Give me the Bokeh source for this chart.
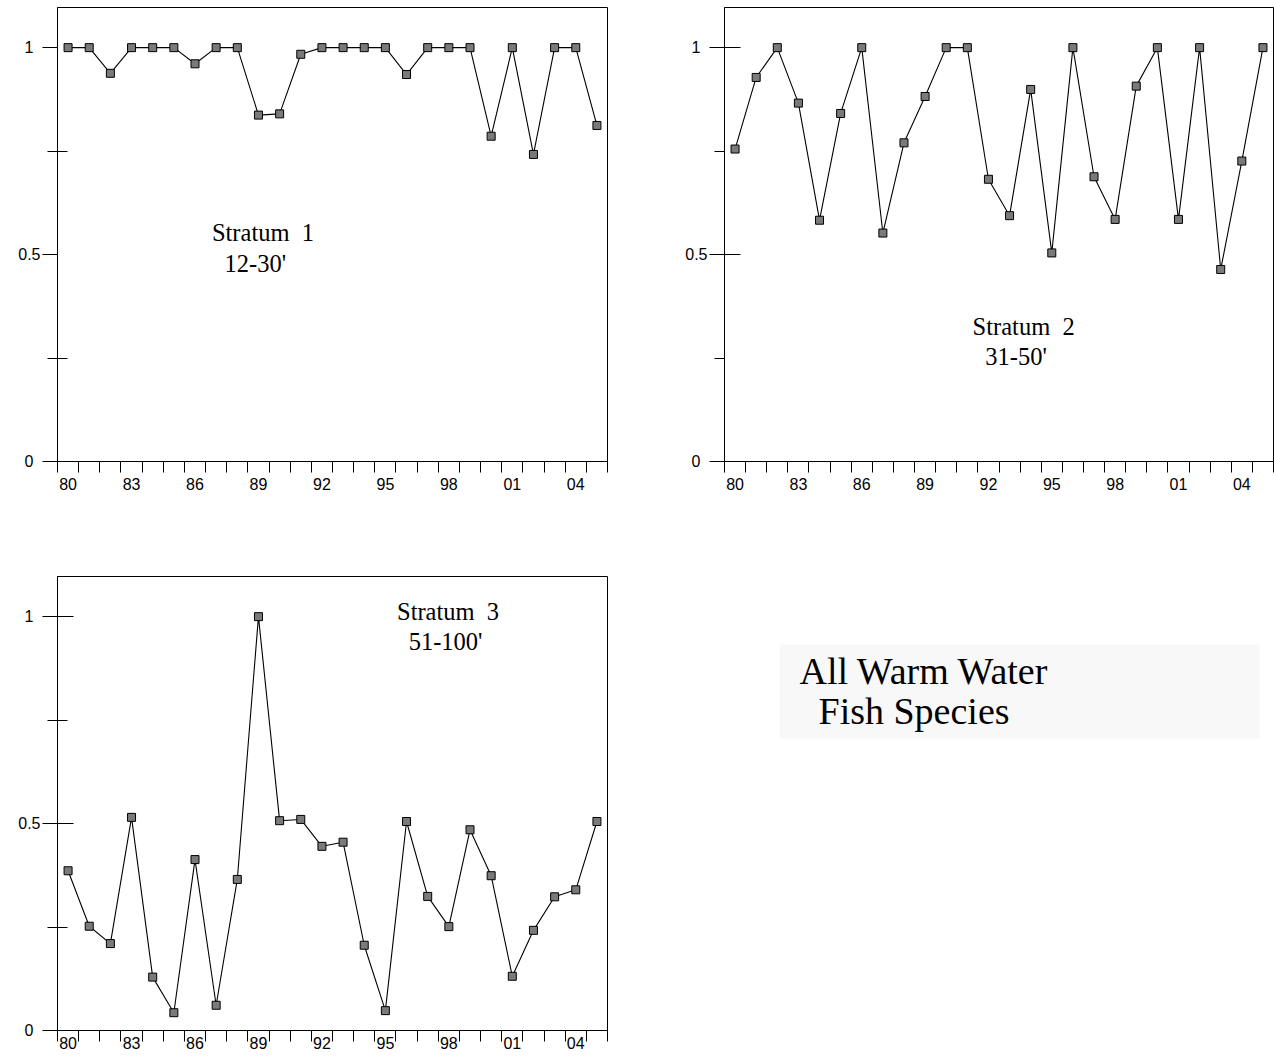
from bokeh.plotting import figure
from bokeh.models import Range1d, FixedTicker, Label, BoxAnnotation
from bokeh.layouts import column, row
from bokeh.embed import file_html
from bokeh.resources import INLINE

# ---- data ----
years = list(range(1980, 2006))
stratum1 = [1, 1, 0.938, 1, 1, 1, 0.961, 1, 1, 0.837, 0.840, 0.984, 1,
            1, 1, 1, 0.935, 1, 1, 1, 0.786, 1, 0.742, 1, 1, 0.812]
stratum2 = [0.755, 0.928, 1, 0.866, 0.583, 0.841, 1, 0.552, 0.770, 0.882,
            1, 1, 0.682, 0.594, 0.899, 0.504, 1, 0.688, 0.585, 0.907, 1,
            0.585, 1, 0.464, 0.726, 1]
stratum3 = [0.386, 0.252, 0.210, 0.515, 0.129, 0.043, 0.413, 0.061, 0.365,
            1.0, 0.507, 0.510, 0.445, 0.455, 0.206, 0.048, 0.505, 0.324,
            0.251, 0.485, 0.374, 0.131, 0.242, 0.323, 0.340, 0.505]
x_tick_years = [1980, 1983, 1986, 1989, 1992, 1995, 1998, 2001, 2004]
x_tick_labels = ["80", "83", "86", "89", "92", "95", "98", "01", "04"]
y_ticks = [0, 0.5, 1]
y_tick_labels = ["0", "0.5", "1"]
y_minor_ticks = [0.25, 0.75]
titles = [("Stratum\u00a0 1", "12-30'"), ("Stratum\u00a0 2", "31-50'"), ("Stratum\u00a0 3", "51-100'")]
box_lines = ["All Warm Water", "Fish Species"]

SANS = "Liberation Sans"
SERIF = "Liberation Serif"
PAD = "\u00a0\u2006"


def make_panel(vals, width, height, mbl, mbr, mbt, mbb, major_in, minor_in, x_standoff):
    p = figure(width=width, height=height,
               x_range=Range1d(years[0] - 0.5, years[-1] + 0.5),
               y_range=Range1d(0, 1.097),
               output_backend="svg", toolbar_location=None,
               min_border_left=mbl, min_border_right=mbr,
               min_border_top=mbt, min_border_bottom=mbb)
    p.xgrid.visible = False
    p.ygrid.visible = False
    p.outline_line_color = "black"
    p.outline_line_width = 1
    p.background_fill_color = "white"
    p.border_fill_color = "white"

    xa = p.xaxis[0]
    xa.ticker = FixedTicker(ticks=x_tick_years,
                            minor_ticks=[y - 0.5 for y in years] + [years[-1] + 0.5])
    xa.major_label_overrides = {y: l for y, l in zip(x_tick_years, x_tick_labels)}
    xa.major_tick_out = 0
    xa.major_tick_in = 0
    xa.minor_tick_out = 11
    xa.minor_tick_in = 0
    xa.major_label_standoff = x_standoff
    xa.major_label_text_font = SANS
    xa.major_label_text_font_size = "16px"
    xa.major_label_text_color = "black"
    xa.axis_line_color = "black"
    xa.minor_tick_line_color = "black"

    ya = p.yaxis[0]
    ya.ticker = FixedTicker(ticks=y_ticks, minor_ticks=y_minor_ticks)
    ya.major_label_overrides = {t: (l if len(l) > 1 else l + PAD)
                                for t, l in zip(y_ticks, y_tick_labels)}
    ya.major_tick_out = 15
    ya.major_tick_in = major_in
    ya.minor_tick_out = 10
    ya.minor_tick_in = minor_in
    ya.major_label_standoff = 2
    ya.major_label_text_font = SANS
    ya.major_label_text_font_size = "16px"
    ya.major_label_text_color = "black"
    ya.axis_line_color = "black"
    ya.major_tick_line_color = "black"
    ya.minor_tick_line_color = "black"

    p.line(years, vals, line_color="black", line_width=1.1)
    p.scatter(years, vals, marker="square", size=8, fill_color="#7a7a7a",
              line_color="black", line_width=1)
    return p


def add_title(p, lines, x1, y1, x2, y2):
    p.add_layout(Label(x=x1, y=y1, text=lines[0], text_font=SERIF,
                       text_font_size="24.5px", text_baseline="alphabetic",
                       text_color="black"))
    p.add_layout(Label(x=x2, y=y2, text=lines[1], text_font=SERIF,
                       text_font_size="24.5px", text_baseline="alphabetic",
                       text_color="black"))


p1 = make_panel(stratum1, 667, 569, 57, 60, 7, 108, 0, 10, 5)
add_title(p1, titles[0], 1986.8, 0.553, 1987.4, 0.478)

p2 = make_panel(stratum2, 607, 569, 57, 1, 7, 108, 16, 0, 5)
add_title(p2, titles[1], 1991.25, 0.326, 1991.85, 0.253)

p3 = make_panel(stratum3, 667, 493, 57, 60, 7, 32, 16, 10, -5)
add_title(p3, titles[2], 1995.55, 1.012, 1996.1, 0.939)

p4 = figure(width=607, height=493, x_range=Range1d(0, 607), y_range=Range1d(493, 0),
            output_backend="svg", toolbar_location=None,
            x_axis_location=None, y_axis_location=None, min_border=0)
p4.xgrid.visible = False
p4.ygrid.visible = False
p4.outline_line_color = None
p4.background_fill_color = "white"
p4.border_fill_color = "white"
p4.add_layout(BoxAnnotation(left=112, right=592, top=74, bottom=176,
                            fill_color="#f9f8f8", fill_alpha=1, line_color=None))
p4.add_layout(Label(x=132, y=103, text=box_lines[0], text_font=SERIF,
                    text_font_size="38px", text_baseline="alphabetic", text_color="black"))
p4.add_layout(Label(x=151, y=146, text=box_lines[1], text_font=SERIF,
                    text_font_size="38px", text_baseline="alphabetic", text_color="black"))

layout = column(row(p1, p2), row(p3, p4))
open("out.html", "w").write(file_html(layout, INLINE))
